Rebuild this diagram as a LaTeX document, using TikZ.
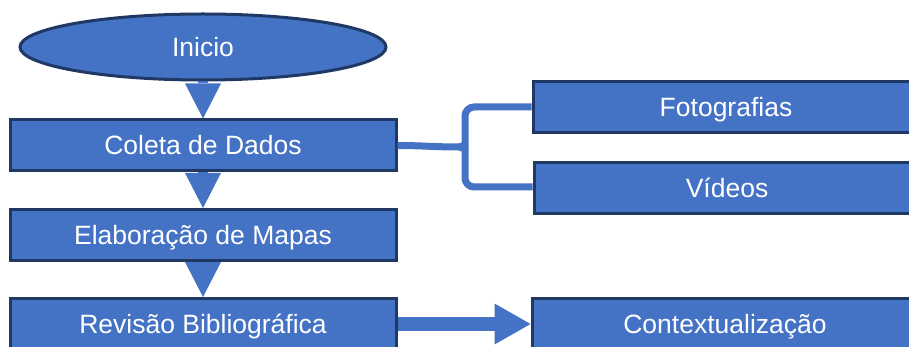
\documentclass[tikz,border=0pt]{standalone}
\usepackage{fontspec}
\setmainfont{Liberation Sans}
\usetikzlibrary{shapes.geometric,arrows.meta}

\definecolor{boxblue}{HTML}{4472C4}
\definecolor{edgenavy}{HTML}{1F3864}

\tikzset{
  flowbox/.style={draw=edgenavy, line width=3pt, fill=boxblue, text=white,
    minimum width=386pt, minimum height=51pt, inner sep=0pt,
    text height=19pt, text depth=0pt,
    font=\fontsize{26.5pt}{30pt}\selectfont},
  startnode/.style={flowbox, ellipse, minimum width=366pt, minimum height=66pt},
  downflow/.style={draw=boxblue, line width=10pt,
    -{Triangle[width=36pt,length=35pt,line width=0pt]}},
  rightflow/.style={draw=boxblue, line width=14pt,
    -{Triangle[width=41pt,length=36pt,line width=0pt]}},
  branch/.style={draw=boxblue, line width=7pt, rounded corners=9pt}
}

\begin{document}
\begin{tikzpicture}[x=1pt,y=1pt]
  \useasboundingbox (0,0) rectangle (909,-347);

  % main column
  \node[startnode] (inicio) at (203,-47) {Inicio};
  \node[flowbox] (coleta) at (203,-145.5) {Coleta de Dados};
  \node[flowbox] (mapas) at (203,-235) {Elaboração de Mapas};
  \node[flowbox] (revisao) at (203,-324) {Revisão Bibliográfica};

  % right column
  \node[flowbox] (fotos) at (726,-107.5) {Fotografias};
  \node[flowbox] (videos) at (727,-188.5) {Vídeos};
  \node[flowbox] (contexto) at (725,-324) {Contextualização};

  \draw[downflow] (inicio) -- (coleta);
  \draw[downflow] (coleta) -- (mapas);
  \draw[downflow] (mapas) -- (revisao);
  \draw[rightflow] (revisao) -- (contexto);

  % brace to the media boxes
  \coordinate (cusp) at (459,-147);
  \draw[branch] (coleta.east) to[out=0,in=180] (cusp);
  \draw[branch] (fotos.west |- 0,-107) -| (465,-138) to[out=-90,in=0] (cusp);
  \draw[branch] (videos.west |- 0,-187) -| (465,-156) to[out=90,in=0] (cusp);
\end{tikzpicture}
\end{document}
